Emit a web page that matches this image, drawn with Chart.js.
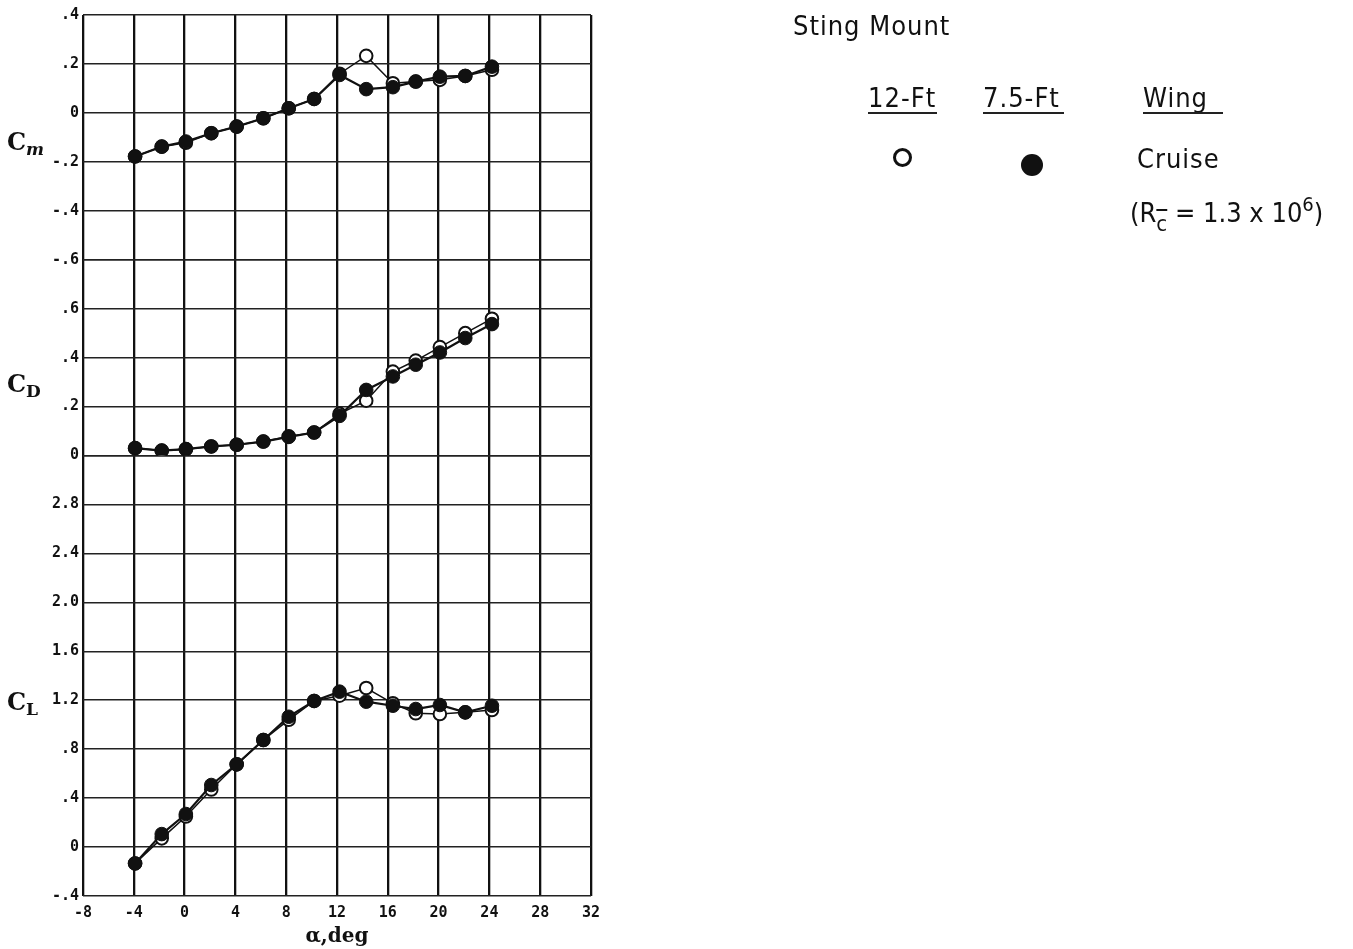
<!DOCTYPE html>
<html>
<head>
<meta charset="utf-8">
<script src="https://cdn.jsdelivr.net/npm/chart.js@4.4.0/dist/chart.umd.min.js"></script>
<style>
  html, body { margin: 0; padding: 0; background: #fff; }
  #wrap { position: relative; width: 1353px; height: 949px; }
  #coefChart { position: absolute; left: 0; top: 0; }
  .lg { position: absolute; font-family: "Liberation Sans Narrow", "DejaVu Sans Condensed", sans-serif;
        font-size: 27px; line-height: 27px; color: #111; letter-spacing: 1px; white-space: nowrap; }
  .ul { position: absolute; height: 2px; background: #222; }
  .mk { position: absolute; border-radius: 50%; box-sizing: border-box; }
  .sub { position: relative; top: 9px; font-size: 22px; text-decoration: overline; }
  .sup { position: relative; top: -11px; font-size: 20px; }
</style>
</head>
<body>
<div id="wrap">
  <canvas id="coefChart" width="1353" height="949"></canvas>

  <div class="lg" style="left:793px; top:12px;">Sting Mount</div>

  <div class="lg" style="left:868px; top:84px;">12-Ft</div>
  <div class="ul" style="left:868px; top:112px; width:69px;"></div>
  <div class="lg" style="left:983px; top:84px;">7.5-Ft</div>
  <div class="ul" style="left:983px; top:112px; width:81px;"></div>
  <div class="lg" style="left:1143px; top:84px;">Wing</div>
  <div class="ul" style="left:1143px; top:112px; width:80px;"></div>

  <div class="mk" style="left:893px; top:148px; width:19px; height:19px; border:3px solid #111;"></div>
  <div class="mk" style="left:1021px; top:154px; width:22px; height:22px; background:#111;"></div>

  <div class="lg" style="left:1137px; top:145px;">Cruise</div>
  <div class="lg" style="left:1130px; top:199px; letter-spacing:0;">(R<span class="sub">c</span> = 1.3 x 10<span class="sup">6</span>)</div>
</div>

<script>
// angle of attack, deg
const alpha = [-3.9, -1.8, 0.1, 2.1, 4.1, 6.2, 8.2, 10.2, 12.2, 14.3, 16.4, 18.2, 20.1, 22.1, 24.2]

// pitching moment
const cm12 = [-0.178, -0.138, -0.122, -0.083, -0.056, -0.022, 0.019, 0.057, 0.160, 0.233, 0.121, 0.128, 0.135, 0.151, 0.176]
const cm75 = [-0.178, -0.138, -0.117, -0.083, -0.056, -0.022, 0.019, 0.057, 0.155, 0.097, 0.105, 0.128, 0.148, 0.151, 0.189]

// drag
const cd12 = [0.030, 0.020, 0.026, 0.037, 0.044, 0.057, 0.078, 0.094, 0.170, 0.224, 0.343, 0.388, 0.443, 0.500, 0.559]
const cd75 = [0.030, 0.020, 0.026, 0.037, 0.044, 0.057, 0.076, 0.094, 0.162, 0.268, 0.323, 0.371, 0.421, 0.480, 0.537]

// lift
const cl12 = [-0.134, 0.071, 0.250, 0.470, 0.676, 0.875, 1.040, 1.194, 1.237, 1.300, 1.175, 1.093, 1.087, 1.101, 1.120]
const cl75 = [-0.134, 0.106, 0.270, 0.507, 0.676, 0.875, 1.065, 1.194, 1.270, 1.188, 1.155, 1.128, 1.161, 1.101, 1.155]

// axis names drawn left of each stacked axis
const coefNames = [['ym', 'm', -0.15], ['yD', 'D', 0.26], ['yL', 'L', 1.12]]

const ink = '#111'
const tickFont = { family: 'DejaVu Sans Mono', weight: 'bold', size: 15 }

function pts(ys) {
  return alpha.map((a, i) => ({ x: a, y: ys[i] }))
}

function openSet(label, ys, axis) {
  return {
    label: label, data: pts(ys), yAxisID: axis, order: 2,
    borderColor: ink, borderWidth: 1.5, tension: 0,
    pointRadius: 6.3, pointBackgroundColor: '#fff', pointBorderColor: ink, pointBorderWidth: 2
  }
}

function filledSet(label, ys, axis) {
  return {
    label: label, data: pts(ys), yAxisID: axis, order: 1,
    borderColor: ink, borderWidth: 2.2, tension: 0,
    pointRadius: 6.8, pointBackgroundColor: ink, pointBorderColor: ink, pointBorderWidth: 1
  }
}

function fmt(v) {
  if (Math.abs(v) < 1e-9) return '0'
  return v.toFixed(1).replace(/^(-?)0\./, '$1.')
}

function yAxis(weight, min, max, step, hideAbove) {
  return {
    type: 'linear', position: 'left', stack: 'coef', stackWeight: weight,
    min: min, max: max,
    ticks: {
      stepSize: step, color: ink, font: tickFont, padding: 4,
      callback: v => (v > hideAbove ? '' : fmt(v))
    },
    grid: { color: '#222', lineWidth: 1.5, drawTicks: false },
    border: { display: false },
    afterFit: s => { s.width = 83 }
  }
}

const coefLabels = {
  id: 'coefLabels',
  afterDraw(chart) {
    const ctx = chart.ctx
    ctx.save()
    ctx.fillStyle = ink
    ctx.textBaseline = 'alphabetic'
    coefNames.forEach(([axis, sub, at]) => {
      const y = chart.scales[axis].getPixelForValue(at)
      ctx.font = 'bold 24px "DejaVu Serif"'
      ctx.fillText('C', 7, y)
      const w = ctx.measureText('C').width
      ctx.font = (sub === 'm' ? 'italic ' : '') + 'bold 17px "DejaVu Serif"'
      ctx.fillText(sub, 7 + w, y + 5)
    })
    ctx.restore()
  }
}

const ctx = document.getElementById('coefChart').getContext('2d')
let coefChart = new Chart(ctx, {
  type: 'line',
  data: {
    datasets: [
      openSet('Cm 12-Ft', cm12, 'ym'),
      filledSet('Cm 7.5-Ft', cm75, 'ym'),
      openSet('CD 12-Ft', cd12, 'yD'),
      filledSet('CD 7.5-Ft', cd75, 'yD'),
      openSet('CL 12-Ft', cl12, 'yL'),
      filledSet('CL 7.5-Ft', cl75, 'yL')
    ]
  },
  options: {
    responsive: false,
    animation: false,
    layout: { padding: { left: 0, top: 15, right: 762, bottom: 0 } },
    plugins: { legend: { display: false }, tooltip: { enabled: false } },
    scales: {
      x: {
        type: 'linear', min: -8, max: 32,
        ticks: { stepSize: 4, color: ink, font: tickFont, padding: 8 },
        grid: { color: ink, lineWidth: 2.3, drawTicks: false },
        border: { display: false },
        title: {
          display: true, text: 'α,deg', color: ink,
          font: { family: 'DejaVu Serif', weight: 'bold', size: 20 },
          padding: { top: 6, bottom: 0 }
        },
        afterFit: s => { s.height = 53 }
      },
      // stacked bottom to top: lift, drag, moment
      yL: yAxis(9, -0.4, 3.2, 0.4, 3),
      yD: yAxis(4, 0, 0.8, 0.2, 0.7),
      ym: yAxis(5, -0.6, 0.4, 0.2, 1)
    }
  },
  plugins: [coefLabels]
})
</script>
</body>
</html>
